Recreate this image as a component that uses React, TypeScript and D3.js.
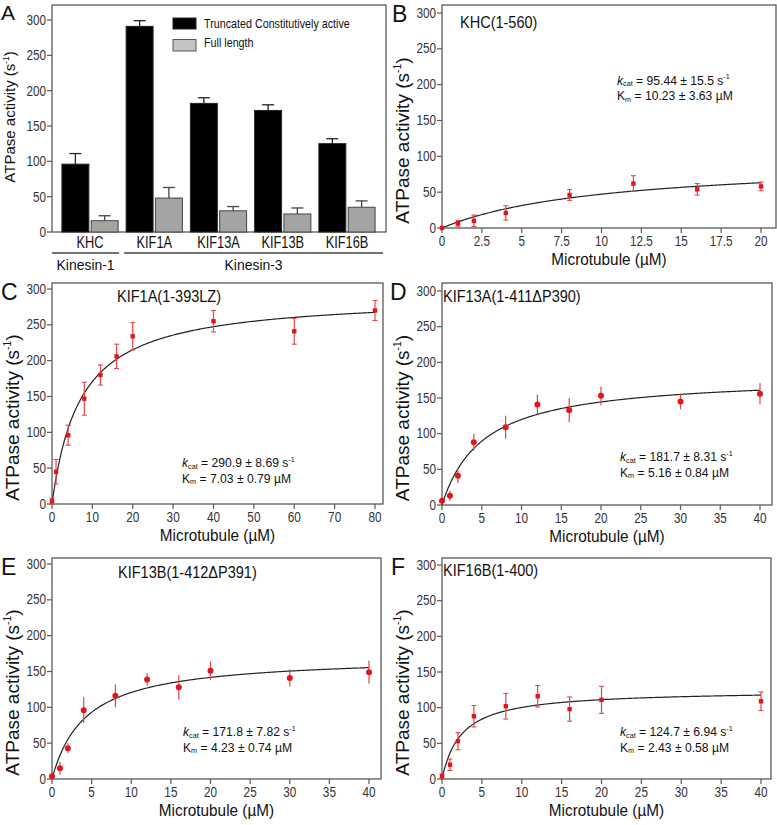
import React from "react";
import * as d3 from "d3";

const W = 777;
const H = 825;
const FONT = "'Liberation Sans', Arial, Helvetica, sans-serif";
const AXIS = "#5a5a5a";
const RED = "#e3141c";
const RED_ERR = "#e0474c";

// ---------- Panel A data ----------
const kinesins = ["KHC", "KIF1A", "KIF13A", "KIF13B", "KIF16B"];
const truncatedActivity = [96, 291, 182, 172, 125];
const truncatedError = [15, 8, 8, 8, 7];
const fullLengthActivity = [16, 48, 30, 25.5, 35];
const fullLengthError = [7, 15, 6, 8.5, 9];
const seriesNames = ["Truncated Constitutively active", "Full length"];
const familyNames = ["Kinesin-1", "Kinesin-3"];
const yTicks = [0, 50, 100, 150, 200, 250, 300];

// ---------- Panels B-F data ----------
const khcConc = [0, 1, 2, 4, 8, 12, 16, 20];
const khcRate = [0, 6.5, 10, 21, 46, 62, 54, 58];
const khcErr = [0, 4, 8, 10, 7.5, 11, 8, 6];

const kif1aConc = [0, 1, 4, 8, 12, 16, 20, 40, 60, 80];
const kif1aRate = [4, 45, 96, 147, 180, 206, 234, 255, 241, 270];
const kif1aErr = [4, 17, 14, 23, 14, 17, 19, 15, 18, 14];

const kif13aConc = [0, 1, 2, 4, 8, 12, 16, 20, 30, 40];
const kif13aRate = [6, 13, 41, 88, 109, 141, 133, 153, 145, 156];
const kif13aErr = [3, 7, 10, 12, 16, 14, 17, 13, 11, 15];

const kif13bConc = [0, 1, 2, 4, 8, 12, 16, 20, 30, 40];
const kif13bRate = [4, 15, 43, 96, 116, 139, 128, 151, 141, 149];
const kif13bErr = [3, 9, 7, 18, 16, 9, 17, 13, 12, 16];

const kif16bConc = [0, 1, 2, 4, 8, 12, 16, 20, 40];
const kif16bRate = [4, 20, 53, 88, 102, 116, 98, 111, 109];
const kif16bErr = [3, 8, 12, 15, 18, 15, 17, 19, 13];

const panelTitles = ["KHC(1-560)", "KIF1A(1-393LZ)", "KIF13A(1-411\u0394P390)", "KIF13B(1-412\u0394P391)", "KIF16B(1-400)"];
const kcatValues = [95.44, 290.9, 181.7, 171.8, 124.7];
const kmValues = [10.23, 7.03, 5.16, 4.23, 2.43];
const kcatLabels = ["95.44 \u00b1 15.5", "290.9 \u00b1 8.69", "181.7 \u00b1 8.31", "171.8 \u00b1 7.82", "124.7 \u00b1 6.94"];
const kmLabels = ["10.23 \u00b1 3.63", "7.03 \u00b1 0.79", "5.16 \u00b1 0.84", "4.23 \u00b1 0.74", "2.43 \u00b1 0.58"];
const xTicks20 = [0, 2.5, 5, 7.5, 10, 12.5, 15, 17.5, 20];
const xTicks80 = [0, 10, 20, 30, 40, 50, 60, 70, 80];
const xTicks40 = [0, 5, 10, 15, 20, 25, 30, 35, 40];

type TProps = {
  x: number; y: number; sx?: number; size: number; anchor?: string; rotate?: number;
  fill?: string; children: React.ReactNode;
};
function T({ x, y, sx = 1, size, anchor = "start", rotate = 0, fill = "#111", children }: TProps) {
  return (
    <g transform={`translate(${x},${y}) rotate(${rotate}) scale(${sx},1)`}>
      <text x={0} y={0} fontSize={size} textAnchor={anchor} fill={fill} fontFamily={FONT}>
        {children}
      </text>
    </g>
  );
}

function YLabel({ x, y, size, sx }: { x: number; y: number; size: number; sx: number }) {
  return (
    <T x={x} y={y} size={size} sx={sx} rotate={-90} anchor="middle">
      ATPase activity (s
      <tspan fontSize={size * 0.55} dy={-size * 0.4}>-1</tspan>
      <tspan dy={size * 0.4}>)</tspan>
    </T>
  );
}

function PanelA() {
  const left = 52, right = 386, top = 5, y0 = 232, y300 = 20;
  const y = d3.scaleLinear().domain([0, 300]).range([y0, y300]);
  const x = d3.scaleBand<string>().domain(kinesins).range([57.9, 379.1]).paddingInner(0.125).paddingOuter(0.0625);
  const x1 = d3.scaleBand<string>().domain(["t", "f"]).range([0, x.bandwidth()]).paddingInner(0.08);
  const capW = 12;
  const center = (k: string) => (x(k) as number) + x.bandwidth() / 2;
  const boundary = (center("KHC") + center("KIF1A")) / 2;
  return (
    <g>
      <rect x={left} y={top} width={right - left} height={y0 - top} fill="none" stroke={AXIS} strokeWidth={1.3} />
      {yTicks.map((t) => (
        <g key={t}>
          <line x1={left - 5} x2={left} y1={y(t)} y2={y(t)} stroke={AXIS} strokeWidth={1.2} />
          <T x={left - 6} y={y(t) + 5} size={14} sx={0.84} anchor="end" fill="#333">{String(t)}</T>
        </g>
      ))}
      {kinesins.map((k, i) => {
        const bx = x(k) as number;
        const tx = bx + (x1("t") as number);
        const fx = bx + (x1("f") as number);
        const bw = x1.bandwidth();
        const tTop = y(truncatedActivity[i] + truncatedError[i]);
        const fTop = y(fullLengthActivity[i] + fullLengthError[i]);
        return (
          <g key={k}>
            <line x1={tx + bw / 2} x2={tx + bw / 2} y1={y(truncatedActivity[i])} y2={tTop} stroke="#222" strokeWidth={1.3} />
            <line x1={tx + bw / 2 - capW / 2} x2={tx + bw / 2 + capW / 2} y1={tTop} y2={tTop} stroke="#222" strokeWidth={1.3} />
            <rect x={tx} y={y(truncatedActivity[i])} width={bw} height={y0 - y(truncatedActivity[i])} fill="#000" stroke="#222" strokeWidth={1} />
            <line x1={fx + bw / 2} x2={fx + bw / 2} y1={y(fullLengthActivity[i])} y2={fTop} stroke="#444" strokeWidth={1.3} />
            <line x1={fx + bw / 2 - capW / 2} x2={fx + bw / 2 + capW / 2} y1={fTop} y2={fTop} stroke="#444" strokeWidth={1.3} />
            <rect x={fx} y={y(fullLengthActivity[i])} width={bw} height={y0 - y(fullLengthActivity[i])} fill="#a4a4a4" stroke="#444" strokeWidth={1} />
            <T x={center(k)} y={247.5} size={16} sx={0.8} anchor="middle">{k}</T>
          </g>
        );
      })}
      {familyNames.map((f, i) => {
        const x1p = i === 0 ? left : boundary + 2;
        const x2p = i === 0 ? boundary - 3 : right - 3;
        return (
          <g key={f}>
            <line x1={x1p} x2={x2p} y1={253} y2={253} stroke="#444" strokeWidth={1.5} />
            <T x={(x1p + x2p) / 2} y={270} size={15.5} sx={0.9} anchor="middle">{f}</T>
          </g>
        );
      })}
      {/* legend */}
      <rect x={173} y={18} width={23} height={11} fill="#000" stroke="#222" />
      <rect x={173} y={39.5} width={23} height={11.5} fill="#c4c4c4" stroke="#555" />
      <T x={204} y={27.5} size={12.5} sx={0.86}>{seriesNames[0]}</T>
      <T x={204} y={47} size={12.5} sx={0.86}>{seriesNames[1]}</T>
      <YLabel x={15} y={117} size={15.5} sx={0.97} />
      <T x={1} y={20} size={21}>A</T>
    </g>
  );
}

type PanelProps = {
  idx: number; letter: string; conc: number[]; rate: number[]; err: number[];
  left: number; right: number; top: number; y0: number; y300: number;
  ticks: number[]; tickPx: number; letterX: number;
  titleX: number; titleY: number; statX: number; statY: number;
  marker: "square" | "circle"; caps: boolean;
};

function KineticPanel(p: PanelProps) {
  const y = d3.scaleLinear().domain([0, 300]).range([p.y0, p.y300]);
  const xMax = p.ticks[p.ticks.length - 1];
  const x = d3.scaleLinear().domain([0, xMax]).range([p.left, p.tickPx]);
  const kcat = kcatValues[p.idx];
  const km = kmValues[p.idx];
  const cMax = d3.max(p.conc) as number;
  const fitX = d3.range(0, 301).map((i) => (i / 300) * cMax);
  const line = d3.line<number>().x((c) => x(c)).y((c) => y((kcat * c) / (km + c)));
  const cw = 5;
  const lineGap = 15.5;
  return (
    <g>
      <rect x={p.left} y={p.top} width={p.right - p.left} height={p.y0 - p.top} fill="none" stroke={AXIS} strokeWidth={1.3} />
      {yTicks.map((t) => (
        <g key={"y" + t}>
          <line x1={p.left - 5} x2={p.left} y1={y(t)} y2={y(t)} stroke={AXIS} strokeWidth={1.2} />
          <T x={p.left - 6} y={y(t) + 4.5} size={14} sx={0.84} anchor="end" fill="#333">{String(t)}</T>
        </g>
      ))}
      {p.ticks.map((t) => (
        <g key={"x" + t}>
          <line x1={x(t)} x2={x(t)} y1={p.y0} y2={p.y0 + 5} stroke={AXIS} strokeWidth={1.2} />
          <T x={x(t)} y={p.y0 + 18} size={14} sx={0.84} anchor="middle" fill="#333">{String(t)}</T>
        </g>
      ))}
      <path d={line(fitX) || ""} fill="none" stroke="#222" strokeWidth={1.2} />
      {p.conc.map((c, i) => {
        const cx = x(c);
        const cy = y(p.rate[i]);
        const e = p.err[i];
        return (
          <g key={"p" + i}>
            {e > 0 && (
              <line x1={cx} x2={cx} y1={y(p.rate[i] - e)} y2={y(p.rate[i] + e)} stroke={RED_ERR} strokeWidth={1.2} />
            )}
            {e > 0 && p.caps && (
              <>
                <line x1={cx - cw / 2} x2={cx + cw / 2} y1={y(p.rate[i] - e)} y2={y(p.rate[i] - e)} stroke={RED_ERR} strokeWidth={1.1} />
                <line x1={cx - cw / 2} x2={cx + cw / 2} y1={y(p.rate[i] + e)} y2={y(p.rate[i] + e)} stroke={RED_ERR} strokeWidth={1.1} />
              </>
            )}
            {p.marker === "square" ? (
              <rect x={cx - 2.2} y={cy - 2.2} width={4.4} height={4.4} fill={RED} />
            ) : (
              <circle cx={cx} cy={cy} r={3} fill={RED} />
            )}
          </g>
        );
      })}
      <T x={p.titleX} y={p.titleY} size={16.5} sx={0.88}>{panelTitles[p.idx]}</T>
      <T x={p.statX} y={p.statY} size={13.5} sx={0.9}>
        <tspan fontStyle="italic">k</tspan>
        <tspan fontSize={8} dy={1.5}>cat</tspan>
        <tspan dy={-1.5}> = {kcatLabels[p.idx]} s</tspan>
        <tspan fontSize={8} dy={-5.5}>-1</tspan>
      </T>
      <T x={p.statX} y={p.statY + lineGap} size={13.5} sx={0.9}>
        K<tspan fontSize={8} dy={1.5}>m</tspan>
        <tspan dy={-1.5}> = {kmLabels[p.idx]} {"\u00b5M"}</tspan>
      </T>
      <T x={(p.left + p.right) / 2} y={p.y0 + 37} size={16.5} sx={0.93} anchor="middle">Microtubule ({"\u00b5M"})</T>
      <YLabel x={p.left - 33} y={(p.top + p.y0) / 2 + 24} size={19} sx={1} />
      <T x={p.letterX} y={p.top + 17} size={23}>{p.letter}</T>
    </g>
  );
}

export default function App() {
  return (
    <svg width={W} height={H} viewBox={`0 0 ${W} ${H}`} style={{ display: "block", position: "absolute", left: 0, top: 0, background: "#fff" }}>
      <rect x={0} y={0} width={W} height={H} fill="#fff" />
      <PanelA />
      <KineticPanel idx={0} letter="B" conc={khcConc} rate={khcRate} err={khcErr}
        left={442} right={776} top={5} y0={228} y300={13} ticks={xTicks20} tickPx={761} letterX={392}
        titleX={460} titleY={28} statX={617} statY={84.5} marker="square" caps={true} />
      <KineticPanel idx={1} letter="C" conc={kif1aConc} rate={kif1aRate} err={kif1aErr}
        left={52} right={383} top={283} y0={504} y300={289} ticks={xTicks80} tickPx={375} letterX={1}
        titleX={117} titleY={302} statX={182} statY={467} marker="square" caps={true} />
      <KineticPanel idx={2} letter="D" conc={kif13aConc} rate={kif13aRate} err={kif13aErr}
        left={442} right={772} top={283} y0={505} y300={291} ticks={xTicks40} tickPx={760} letterX={390}
        titleX={443} titleY={302} statX={620} statY={461} marker="circle" caps={false} />
      <KineticPanel idx={3} letter="E" conc={kif13bConc} rate={kif13bRate} err={kif13bErr}
        left={52} right={381} top={558} y0={779} y300={564} ticks={xTicks40} tickPx={369} letterX={1}
        titleX={118} titleY={578} statX={183} statY={736} marker="circle" caps={false} />
      <KineticPanel idx={4} letter="F" conc={kif16bConc} rate={kif16bRate} err={kif16bErr}
        left={442} right={771} top={558} y0={779} y300={565} ticks={xTicks40} tickPx={761} letterX={391}
        titleX={443} titleY={576} statX={620} statY={736} marker="square" caps={true} />
    </svg>
  );
}
